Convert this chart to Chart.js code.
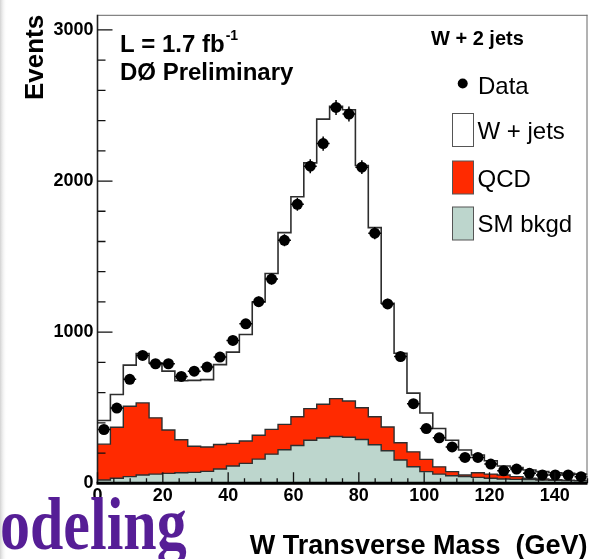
<!DOCTYPE html>
<html>
<head>
<meta charset="utf-8">
<script src="https://cdn.jsdelivr.net/npm/chart.js@4/dist/chart.umd.min.js"></script>
<style>
html,body{margin:0;padding:0;background:#fff;}
#wrap{position:relative;width:593px;height:559px;overflow:hidden;}
canvas{display:block;}
</style>
</head>
<body>
<div id="wrap"><canvas id="c" width="593" height="559"></canvas></div>
<script>
// ---- data ----
const NUM_BINS = 38;
const X_MIN = 0, X_MAX = 150;
const Y_MIN = 0, Y_MAX = 3100;
const dataEvents = [356,498,688,846,791,791,707,742,769,835,945,1055,1202,1351,1608,1846,2098,2248,2487,2443,2092,1655,1187,839,527,362,301,241,171,171,127,83,94,66,55,55,55,44];
const wJets  = [157,217,272,327,364,389,391,436,446,528,604,705,882,1031,1269,1456,1626,1887,1934,1927,1603,1252,818,593,389,307,254,208,165,117,88,59,61,55,49,47,46,43];
const qcd    = [237,338,466,477,372,287,218,173,161,162,150,148,158,164,168,190,209,223,250,240,210,185,158,114,98,81,48,27,11,31,28,27,18,9,6,3,2,2];
const smBkgd = [22,33,44,55,61,66,70,72,79,95,114,132,160,193,222,250,285,300,310,305,290,255,215,154,110,77,61,50,44,39,33,28,26,24,22,20,18,16];
const xTickLabels = [0,20,40,60,80,100,120,140];
const yTickLabels = [0,1000,2000,3000];
const legendLabels = ['Data','W + jets','QCD','SM bkgd'];

// ---- helpers ----
const BIN_W = (X_MAX - X_MIN) / NUM_BINS;
const edge = i => X_MIN + i * BIN_W;
const center = i => X_MIN + (i + 0.5) * BIN_W;
const stackSM  = smBkgd.slice();
const stackQCD = qcd.map((v,i) => v + stackSM[i]);
const stackAll = wJets.map((v,i) => v + stackQCD[i]);
function histPoints(vals){
  const pts = [];
  vals.forEach((v,i) => { pts.push({x: edge(i), y: v}); pts.push({x: edge(i+1), y: v}); });
  return pts;
}
const SANS = '"Liberation Sans", Arial, Helvetica, sans-serif';
const COL_QCD = '#ff2a00';
const COL_SM = '#bdd6cd';
const COL_LINE = '#2e2e2e';

const decor = {
  id: 'decor',
  beforeDraw(chart){
    const ctx = chart.ctx;
    ctx.save();
    ctx.fillStyle = '#fff';
    ctx.fillRect(0,0,chart.width,chart.height);
    const g = ctx.createLinearGradient(0,0,7,0);
    g.addColorStop(0,'#d2d2d2'); g.addColorStop(1,'rgba(255,255,255,0)');
    ctx.fillStyle = g;
    ctx.fillRect(0,0,7,chart.height);
    ctx.restore();
  },
  afterDatasetsDraw(chart){
    const ctx = chart.ctx, xs = chart.scales.x, ys = chart.scales.y, a = chart.chartArea;
    ctx.save();
    // error bars
    ctx.strokeStyle = '#000'; ctx.lineWidth = 1.5;
    dataEvents.forEach((v,i) => {
      const px = xs.getPixelForValue(center(i)), py = ys.getPixelForValue(v);
      const e = Math.sqrt(v);
      ctx.beginPath();
      ctx.moveTo(px, ys.getPixelForValue(v - e)); ctx.lineTo(px, ys.getPixelForValue(v + e));
      ctx.moveTo(xs.getPixelForValue(edge(i)), py); ctx.lineTo(xs.getPixelForValue(edge(i+1)), py);
      ctx.stroke();
    });
    // frame
    ctx.strokeStyle = '#666'; ctx.lineWidth = 1;
    ctx.beginPath();
    ctx.moveTo(a.left, a.top + 0.5); ctx.lineTo(a.right, a.top + 0.5);
    ctx.moveTo(a.right - 0.5, a.top); ctx.lineTo(a.right - 0.5, a.bottom);
    ctx.stroke();
    ctx.strokeStyle = '#222'; ctx.lineWidth = 1.6;
    ctx.beginPath(); ctx.moveTo(a.left, a.top); ctx.lineTo(a.left, a.bottom); ctx.stroke();
    // ticks
    ctx.strokeStyle = '#111'; ctx.lineWidth = 1.3;
    ctx.beginPath();
    for (let v = X_MIN; v <= X_MAX; v += 5){
      const px = xs.getPixelForValue(v);
      const len = (v % 20 === 0) ? 11 : 5;
      ctx.moveTo(px, a.bottom); ctx.lineTo(px, a.bottom - len);
    }
    for (let v = Y_MIN; v <= Y_MAX; v += 200){
      const py = ys.getPixelForValue(v);
      const len = (v % 1000 === 0) ? 15 : 8;
      ctx.moveTo(a.left, py); ctx.lineTo(a.left + len, py);
    }
    ctx.stroke();
    ctx.strokeStyle = '#000'; ctx.lineWidth = 3;
    ctx.beginPath(); ctx.moveTo(a.left - 1, a.bottom); ctx.lineTo(a.right, a.bottom); ctx.stroke();
    ctx.restore();
  },
  afterDraw(chart){
    const ctx = chart.ctx;
    ctx.save();
    ctx.fillStyle = '#000';
    ctx.textBaseline = 'alphabetic'; ctx.textAlign = 'left';
    ctx.font = 'bold 24px ' + SANS;
    const lt = 'L = 1.7 fb';
    ctx.fillText(lt, 120, 52);
    const w = ctx.measureText(lt).width;
    ctx.font = 'bold 14px ' + SANS;
    ctx.fillText('-1', 120 + w + 1, 40);
    ctx.font = 'bold 24px ' + SANS;
    ctx.fillText('DØ Preliminary', 120, 80);
    ctx.font = 'bold 20px ' + SANS;
    ctx.fillText('W + 2 jets', 431, 45);
    // legend
    ctx.beginPath(); ctx.arc(462.7, 83.5, 5, 0, Math.PI*2); ctx.fill();
    ctx.font = '24px ' + SANS;
    ctx.fillText(legendLabels[0], 478, 94);
    const boxes = [[113.5,'#ffffff',138.5],[161,COL_QCD,186.5],[207,COL_SM,232]];
    boxes.forEach((b,k) => {
      ctx.fillStyle = b[1]; ctx.fillRect(452.5, b[0], 21, 33);
      ctx.strokeStyle = '#555'; ctx.lineWidth = 1; ctx.strokeRect(452.5, b[0], 21, 33);
      ctx.fillStyle = '#000'; ctx.fillText(legendLabels[k+1], 477.5, b[2]);
    });
    // slide text fragment
    ctx.fillStyle = '#561e96';
    ctx.font = 'bold 60px "Liberation Serif", "Times New Roman", serif';
    ctx.translate(0, 549); ctx.scale(1, 1.25);
    ctx.fillText('odeling', 0, 0);
    ctx.restore();
  }
};

const ds = [
  { label: legendLabels[0], data: dataEvents.map((v,i) => ({x: center(i), y: v})), showLine: false,
    pointRadius: 5.5, pointHoverRadius: 5.5, pointBackgroundColor: '#000', pointBorderWidth: 0, order: 0 },
  { label: legendLabels[3], data: histPoints(stackSM), showLine: true, pointRadius: 0, borderColor: COL_LINE,
    borderWidth: 1.4, backgroundColor: COL_SM, fill: 'origin', tension: 0, order: 1 },
  { label: legendLabels[2], data: histPoints(stackQCD), showLine: true, pointRadius: 0, borderColor: COL_LINE,
    borderWidth: 1.4, backgroundColor: COL_QCD, fill: 'origin', tension: 0, order: 2 },
  { label: legendLabels[1], data: histPoints(stackAll), showLine: true, pointRadius: 0, borderColor: COL_LINE,
    borderWidth: 1.6, backgroundColor: '#ffffff', fill: 'origin', tension: 0, order: 3 }
];

new Chart(document.getElementById('c'), {
  type: 'scatter',
  data: { datasets: ds },
  plugins: [decor],
  options: {
    responsive: false, animation: false, devicePixelRatio: 1,
    layout: { padding: { left: 0, top: 12.7, right: 5, bottom: 0 } },
    plugins: { legend: { display: false }, tooltip: { enabled: false } },
    events: [],
    scales: {
      x: {
        type: 'linear', min: X_MIN, max: X_MAX,
        grid: { display: false, drawTicks: false }, border: { display: false },
        afterBuildTicks: s => { s.ticks = xTickLabels.map(v => ({value: v})); },
        afterFit: s => { s.height = 75.7; },
        ticks: { color: '#000', padding: 2, maxRotation: 0, autoSkip: false,
                 callback: v => String(v),
                 font: { family: SANS, size: 18, weight: 'bold' } },
        title: { display: true, text: 'W Transverse Mass  (GeV)', align: 'end', color: '#000',
                 padding: { top: 0, bottom: 0 },
                 font: { family: SANS, size: 27, weight: 'bold', lineHeight: 0.9 } }
      },
      y: {
        type: 'linear', min: Y_MIN, max: Y_MAX,
        grid: { display: false, drawTicks: false }, border: { display: false },
        afterBuildTicks: s => { s.ticks = yTickLabels.map(v => ({value: v})); },
        afterFit: s => { s.width = 97.5; },
        ticks: { color: '#000', padding: 4, autoSkip: false,
                 callback: v => String(v),
                 font: { family: SANS, size: 18, weight: 'bold' } },
        title: { display: true, text: 'Events', align: 'end', color: '#000',
                 padding: { top: 20, bottom: 0 },
                 font: { family: SANS, size: 26, weight: 'bold', lineHeight: 1.2 } }
      }
    }
  }
});
</script>
</body>
</html>
